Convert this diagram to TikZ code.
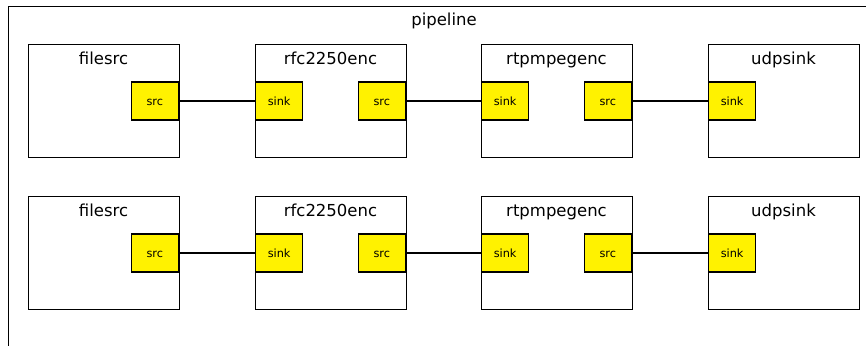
\documentclass[tikz,border=0pt]{standalone}
\usepackage{fontspec}
\setmainfont{DejaVu Sans}
\begin{document}
\begin{tikzpicture}[x=1pt,y=-1pt,
  elem/.style={draw,line width=1.3pt,minimum width=151pt,minimum height=113pt,anchor=north west,inner sep=0pt},
  port/.style={draw,line width=1.3pt,fill=yellow,minimum width=47pt,minimum height=38pt,inner sep=0pt,text height=9.4pt,text depth=0pt,font=\fontsize{11.3}{13}\selectfont},
  title/.style={font=\fontsize{16.5}{19}\selectfont,inner sep=0pt,anchor=base},
  link/.style={line width=1.3pt}]
\useasboundingbox (0,0) rectangle (866,345);
\clip (0,0) rectangle (866,345);
\node[draw,line width=1.3pt,minimum width=900pt,minimum height=400pt,anchor=north west,inner sep=0pt] (pipe) at (8,6) {};
\node[title] (pipelbl) at (444,26) {pipeline};
\foreach \r/\y in {a/44,b/196}{
  \node[elem] (f\r) at (28,\y) {};
  \node[elem] (e\r) at (255,\y) {};
  \node[elem] (m\r) at (481,\y) {};
  \node[elem] (u\r) at (708,\y) {};
  \node[title] (ft\r) at (103.5,\y+20.5) {filesrc};
  \node[title] (et\r) at (330.5,\y+20.5) {rfc2250enc};
  \node[title] (mt\r) at (556.5,\y+20.5) {rtpmpegenc};
  \node[title] (ut\r) at (783.5,\y+20.5) {udpsink};
  \node[port,anchor=east] (fs\r) at (179,\y+57) {src};
  \node[port,anchor=west] (ek\r) at (255,\y+57) {sink};
  \node[port,anchor=east] (es\r) at (406,\y+57) {src};
  \node[port,anchor=west] (mk\r) at (481,\y+57) {sink};
  \node[port,anchor=east] (ms\r) at (632,\y+57) {src};
  \node[port,anchor=west] (uk\r) at (708,\y+57) {sink};
  \draw[link] (fs\r.east) -- (ek\r.west);
  \draw[link] (es\r.east) -- (mk\r.west);
  \draw[link] (ms\r.east) -- (uk\r.west);
}
\end{tikzpicture}
\end{document}
